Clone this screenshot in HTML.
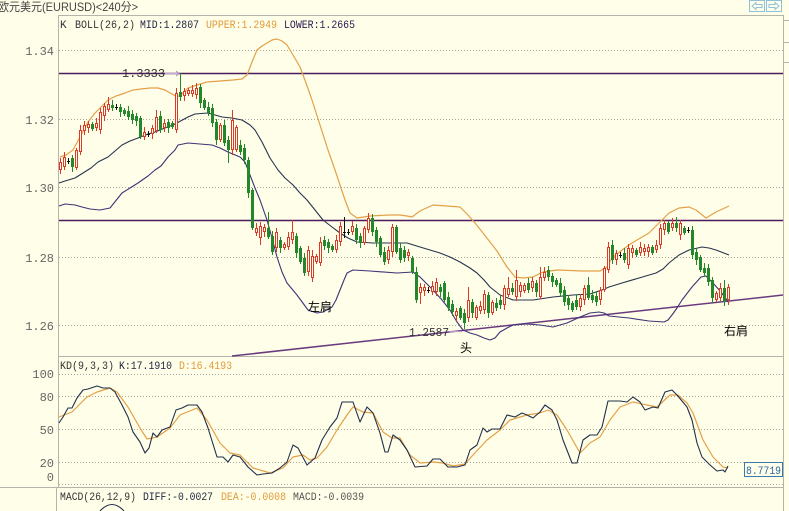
<!DOCTYPE html>
<html><head><meta charset="utf-8"><style>
html,body{margin:0;padding:0;background:#FFFEE9;}
body{width:789px;height:511px;overflow:hidden;position:relative;}
svg{position:absolute;left:0;top:0;}
text{font-family:"Liberation Mono","Noto Sans CJK SC",monospace;}
.cj{font-family:"Liberation Sans","Noto Sans CJK SC",sans-serif;}
</style></head><body>
<svg id="s" width="789" height="511" viewBox="0 0 789 511" xmlns="http://www.w3.org/2000/svg">
<rect x="0" y="0" width="789" height="511" fill="#FFFEE9"/>
<!-- frame -->
<g stroke="#b4b4aa" stroke-width="1" fill="none">
<line x1="58" y1="15.5" x2="783" y2="15.5"/>
<line x1="58" y1="356.5" x2="783" y2="356.5"/>
<line x1="0" y1="487.5" x2="783" y2="487.5"/>
<line x1="58.5" y1="15" x2="58.5" y2="487"/>
<line x1="56.5" y1="487" x2="56.5" y2="511"/>
<line x1="783.5" y1="15" x2="783.5" y2="511"/>
<line x1="783" y1="20.5" x2="789" y2="20.5"/>
<line x1="783" y1="42.5" x2="789" y2="42.5"/>
<line x1="783" y1="62.5" x2="789" y2="62.5"/>
</g>
<!-- nav buttons -->
<g stroke="#8fc0dc" fill="none" stroke-width="1">
<rect x="749.5" y="0.5" width="15" height="11"/>
<rect x="766.5" y="0.5" width="15" height="11"/>
<path d="M752 6 L756 2.5 L756 4.5 L762 4.5 L762 7.5 L756 7.5 L756 9.5 Z"/>
<path d="M779 6 L775 2.5 L775 4.5 L769 4.5 L769 7.5 L775 7.5 L775 9.5 Z"/>
</g>
<!-- grid main -->
<g stroke="#a8a8a0" stroke-width="1" stroke-dasharray="1,2">
<line x1="59" y1="50.5" x2="783" y2="50.5"/>
<line x1="59" y1="119.5" x2="783" y2="119.5"/>
<line x1="59" y1="187.5" x2="783" y2="187.5"/>
<line x1="59" y1="257.5" x2="783" y2="257.5"/>
<line x1="59" y1="325.5" x2="783" y2="325.5"/>
<line x1="59" y1="374.5" x2="783" y2="374.5"/>
<line x1="59" y1="396.5" x2="783" y2="396.5"/>
<line x1="59" y1="429.5" x2="783" y2="429.5"/>
<line x1="59" y1="462.5" x2="783" y2="462.5"/>
<line x1="59" y1="484.5" x2="783" y2="484.5"/>
</g>
<!-- title -->
<text class="cj" x="-2" y="11" font-size="12" fill="#444" textLength="140" lengthAdjust="spacingAndGlyphs">欧元美元(EURUSD)&lt;240分&gt;</text>
<!-- legend -->
<g font-size="11">
<text x="60" y="28" fill="#333">K</text>
<text x="75" y="28" fill="#333" textLength="60" lengthAdjust="spacingAndGlyphs">BOLL(26,2)</text>
<text x="140" y="28" fill="#1c2340" textLength="59" lengthAdjust="spacingAndGlyphs">MID:1.2807</text>
<text x="206" y="28" fill="#e09a3a" textLength="71" lengthAdjust="spacingAndGlyphs">UPPER:1.2949</text>
<text x="284" y="28" fill="#2a1850" textLength="71" lengthAdjust="spacingAndGlyphs">LOWER:1.2665</text>
</g>
<!-- price labels -->
<g font-size="12" fill="#666" text-anchor="end">
<text x="54" y="55">1.34</text>
<text x="54" y="124">1.32</text>
<text x="54" y="192">1.30</text>
<text x="54" y="262">1.28</text>
<text x="54" y="330">1.26</text>
<text x="54" y="378">100</text>
<text x="54" y="401">80</text>
<text x="54" y="434">50</text>
<text x="54" y="467">20</text>
<text x="54" y="481">0</text>
</g>
<!-- horizontal resistance lines -->
<g stroke="#4e1a5e" stroke-width="1.4">
<line x1="59" y1="73.5" x2="783" y2="73.5"/>
<line x1="59" y1="220.5" x2="783" y2="220.5"/>
</g>
<line x1="232" y1="356" x2="783" y2="295" stroke="#6a3a7e" stroke-width="1.5"/>
<!-- bands -->
<polyline fill="none" stroke="#e3a048" stroke-width="1.2" stroke-linejoin="round" points="60,157 66,155 73,150 80,137 88,122 95,113 102,106 108,100 116,96 125,93 133,90 141,89 150,88 158,88 165,90 172,94 177,97 182,94 188,88 197,85 207,82 220,81 233,80 242,79 247,75 252,62 257,50 262,46 267,43 272,40 277,39 282,41 287,45 293,55 300,67 306,83 312,100 320,125 328,150 335,170 340,185 345,200 350,213 357,218 370,216 390,215 400,215 407,216 412,217 420,211 433,205 447,206 460,207 468,215 475,223 483,233 490,242 497,251 507,267 515,277 523,278 533,277 543,272 557,270 583,271 600,271 607,267 612,258 622,250 632,243 649,233 659,223 669,213 679,208 689,207 696,210 706,218 716,212 729,206"/>
<polyline fill="none" stroke="#27344e" stroke-width="1.1" stroke-linejoin="round" points="59,183 65,181 75,178 83,173 91,168 98,162 108,157 115,151 122,145 130,141 138,138 148,134 155,132 165,128 175,124 188,117 195,114 208,113 222,117 232,118 242,120 250,125 255,130 262,142 270,158 278,170 285,178 293,185 300,193 307,200 315,210 323,220 332,227 340,233 348,238 357,242 373,243 387,243 407,243 420,247 430,250 440,253 450,257 460,262 470,268 477,273 484,280 490,287 500,295 513,300 533,300 553,297 573,295 590,294 602,290 609,287 622,283 639,278 656,273 663,269 669,263 679,255 689,250 702,247 709,248 716,250 729,255"/>
<polyline fill="none" stroke="#3c3476" stroke-width="1.1" stroke-linejoin="round" points="59,206 65,204 75,205 82,207 90,209 100,210 110,208 122,193 130,188 138,183 148,176 155,170 161,166 168,157 175,150 178,145 183,144 188,143 200,144 212,145 220,148 228,152 240,157 245,162 250,175 255,188 260,200 267,220 272,238 277,257 282,272 287,283 297,295 308,310 317,313 323,312 332,307 336,300 340,290 344,280 347,273 353,270 370,271 397,273 413,272 420,277 426,283 433,290 442,300 450,310 457,322 463,330 470,333 477,335 484,338 490,340 495,338 500,332 507,328 513,325 527,324 540,325 553,327 567,323 580,317 590,313 599,312 604,313 609,316 629,318 649,321 664,322 668,320 672,315 677,308 682,300 692,287 701,277 706,276 712,282 721,292 729,303"/>
<g id="candles"></g>
<!-- annotations -->
<text x="122" y="77" font-size="12" fill="#333" textLength="43" lengthAdjust="spacingAndGlyphs">1.3333</text>
<line x1="165" y1="73.5" x2="178" y2="73.5" stroke="#c8a8d8" stroke-width="1.4"/>
<path d="M176 71 L179 73.5 L176 76" stroke="#b090c8" fill="none"/>
<text x="409" y="336" font-size="12" fill="#333" textLength="40" lengthAdjust="spacingAndGlyphs">1.2587</text>
<line x1="449" y1="331.5" x2="462" y2="331.5" stroke="#b89ad0" stroke-width="1.2"/>
<text class="cj" x="308" y="311" font-size="12" fill="#000">左肩</text>
<text class="cj" x="460" y="352" font-size="12" fill="#000">头</text>
<text class="cj" x="724" y="335" font-size="12" fill="#000">右肩</text>
<!-- KD -->
<g font-size="11">
<text x="60" y="369" fill="#333" textLength="54" lengthAdjust="spacingAndGlyphs">KD(9,3,3)</text>
<text x="119" y="369" fill="#1c2340" textLength="53" lengthAdjust="spacingAndGlyphs">K:17.1910</text>
<text x="179" y="369" fill="#e09a3a" textLength="53" lengthAdjust="spacingAndGlyphs">D:16.4193</text>
<text x="60" y="500" fill="#333" textLength="76" lengthAdjust="spacingAndGlyphs">MACD(26,12,9)</text>
<text x="143" y="500" fill="#1c2340" textLength="70" lengthAdjust="spacingAndGlyphs">DIFF:-0.0027</text>
<text x="221" y="500" fill="#e09a3a" textLength="65" lengthAdjust="spacingAndGlyphs">DEA:-0.0008</text>
<text x="293" y="500" fill="#555" textLength="71" lengthAdjust="spacingAndGlyphs">MACD:-0.0039</text>
</g>
<polyline fill="none" stroke="#e3a048" stroke-width="1.2" stroke-linejoin="round" points="59,417 72,412 87,397 97,392 110,388 117,392 128,407 140,428 147,439 157,437 170,428 180,415 197,408 207,420 220,443 230,453 240,455 253,468 270,473 283,468 293,457 303,455 310,460 317,458 327,447 337,430 347,415 353,407 363,412 373,413 383,432 392,438 400,438 410,455 420,463 433,462 443,463 453,466 465,464 473,455 487,440 500,430 510,420 527,415 540,413 548,410 557,415 567,430 580,453 590,443 600,437 610,420 620,407 633,402 647,405 657,407 670,395 678,395 687,403 693,413 703,440 713,457 723,467 728,468"/>
<polyline fill="none" stroke="#22304a" stroke-width="1.1" stroke-linejoin="round" points="59,423 63,417 68,408 72,408 77,398 83,390 88,389 97,386 103,388 110,388 115,392 122,405 128,417 133,432 140,442 145,453 149,448 153,433 157,437 162,430 170,427 176,410 182,408 188,405 197,405 202,412 208,428 217,457 223,457 228,462 233,455 240,457 248,467 257,475 263,474 272,473 280,468 287,462 293,445 298,448 307,465 315,458 322,440 330,427 337,418 342,402 348,402 353,402 360,422 367,407 373,413 380,433 385,452 388,452 393,435 400,440 407,450 415,467 427,466 433,459 440,459 448,467 457,467 465,465 470,450 477,445 483,428 487,432 492,429 500,429 507,415 515,417 522,413 527,415 533,418 540,412 545,405 552,410 557,420 563,440 572,463 577,463 583,440 590,435 597,435 602,427 608,401 620,401 627,402 633,397 640,402 645,410 653,407 658,408 665,392 672,390 677,395 687,407 692,420 697,443 702,457 710,465 717,471 723,470 725,472 728,466"/>
<rect x="744.5" y="462.5" width="38" height="14" fill="#FFFEE9" stroke="#3a78b0"/>
<text x="746" y="474" font-size="11" fill="#2a64a8" textLength="35" lengthAdjust="spacingAndGlyphs">8.7719</text>
<!-- MACD arc -->
<path d="M100 511 Q112 498 124 511" stroke="#22304a" fill="none" stroke-width="1.1"/>
</svg>
<script>
(function(){
var D=[
['r',162,170,158,174],['r',157,167],['c',161],['g',158,167],['r',150,168],['r',130,152],['r',125,131],['r',124,128],['g',124,129],['r',123,128],
['r',112,130],['r',106,116],['r',104,110,97],['g',105,108],['c',107],['g',107,112],['g',110,114],['g',111,117],['g',114,120],['g',116,121],
['g',118,137],['r',132,137],['c',134],['r',128,134],['r',117,131,110],['g',116,130],['r',123,128],['g',122,128],['g',123,127],['r',93,130,88],
['g',92,97,73],['r',91,96],['r',90,94],['r',90,94],['r',88,95,83],['g',87,103],['g',100,108],['g',107,113],['g',108,123],['g',122,140],
['r',125,140],['g',125,143],['g',140,150,136,163],['r',120,150,110],['r',127,150],['g',145,152],['g',148,160],['g',160,193],['g',190,228],['r',228,233],
['r',226,238,222,245],['r',227,232],['g',228,237,212],['g',236,252],['r',232,248],['g',240,248],['r',244,248],['r',237,247],['r',232,240,220],['g',236,253],
['g',248,262],['g',258,273],['r',250,272],['r',256,278,250,282],['r',256,262],['r',242,263],['g',240,246],['g',242,248],['g',246,250],['r',240,250],
['r',226,242],['c',232,217,238],['c',232],['r',226,232],['g',228,240],['g',236,243],['r',228,243],['r',218,230],['g',218,232],['g',230,242],
['g',238,255],['g',252,262],['r',250,260],['r',227,252],['g',227,252],['g',248,260],['g',250,258],['r',252,256],['g',258,272],['g',272,300],
['r',287,293,283,304],['r',287,291],['c',290],['r',286,292],['r',282,292],['g',287,292],['g',283,300],['g',297,308],['g',304,312],['r',311,316],
['g',308,318],['g',313,323,309,329],['r',300,318,287],['g',302,313],['r',307,318],['r',306,311],['r',294,310],['g',295,313],['r',302,313],['g',303,308],
['g',300,305],['r',288,305],['r',288,295,277],['g',288,292],['r',280,297,270],['r',285,292],['r',285,291],['g',283,290],['r',281,288],['g',283,292],
['r',277,297,267],['r',272,278],['g',270,277],['g',276,282],['g',280,285],['g',283,293],['g',290,302],['g',298,305],['g',303,310],['g',300,307],
['r',298,307],['r',288,300],['g',285,298,277],['g',295,300],['g',296,302],['r',290,300],['r',268,290],['r',247,270],['g',245,260,240],['r',253,260],
['c',255],['g',253,260],['r',248,265],['r',248,253],['g',250,255],['r',247,253],['r',248,252],['r',247,252],['g',247,253],['r',245,250],
['r',228,245],['r',223,230],['g',223,232],['r',223,228],['g',223,228,217],['r',223,235],['g',228,233],['c',230],['g',230,255],['g',252,260],
['g',257,270],['g',268,273],['g',268,282],['g',280,298],['r',293,300],['r',288,298],['g',288,302,280],['r',287,300]
];
var RED='#dc3a28',GRN='#23882a',BG='#FFFEE9';
var s='';
for(var i=0;i<D.length;i++){
 var d=D[i],x=60+4*i,t=d[0],xc=x+0.5;
 if(t==='c'){
  var y=d[1],hi=d[2]||y-3,lo=d[3]||y+3;
  s+='<line x1="'+xc+'" y1="'+hi+'" x2="'+xc+'" y2="'+lo+'" stroke="#111"/>';
  s+='<line x1="'+(x-1)+'" y1="'+(y+0.5)+'" x2="'+(x+2)+'" y2="'+(y+0.5)+'" stroke="#111"/>';
 } else {
  var top=d[1],bot=d[2];
  var hi2=d[3]||top-(2+(i*7)%4),lo2=d[4]||bot+(2+(i*5)%4);
  var col=t==='r'?RED:GRN;
  s+='<line x1="'+xc+'" y1="'+hi2+'" x2="'+xc+'" y2="'+lo2+'" stroke="'+col+'"/>';
  if(t==='r'){
   s+='<rect x="'+(x-0.5)+'" y="'+(top+0.5)+'" width="2" height="'+Math.max(1,bot-top-1)+'" fill="'+BG+'" stroke="'+col+'"/>';
  } else {
   s+='<rect x="'+(x-1)+'" y="'+top+'" width="3" height="'+Math.max(1,bot-top)+'" fill="'+col+'"/>';
  }
 }
}
document.getElementById('candles').innerHTML=s;
})();
</script>
</body></html>
